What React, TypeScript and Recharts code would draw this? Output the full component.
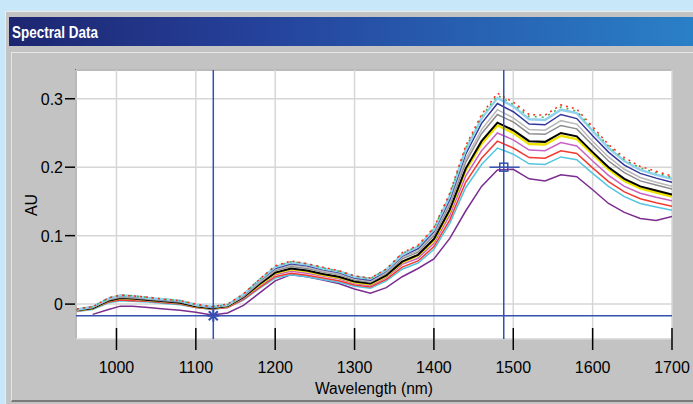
import React from 'react';
import { LineChart, Line, XAxis, YAxis, CartesianGrid, ReferenceLine, ReferenceDot } from 'recharts';

const wavelengths = [950, 970, 990, 1005, 1020, 1040, 1060, 1080, 1100, 1120, 1140, 1160, 1180, 1200, 1220, 1240, 1260, 1280, 1300, 1320, 1340, 1360, 1380, 1400, 1420, 1440, 1460, 1480, 1500, 1520, 1540, 1560, 1580, 1600, 1620, 1640, 1660, 1680, 1700];

const purple = [null, -0.015, -0.008, -0.003, -0.003, -0.005, -0.007, -0.009, -0.012, -0.016, -0.013, -0.002, 0.016, 0.034, 0.043, 0.040, 0.035, 0.030, 0.022, 0.016, 0.024, 0.040, 0.052, 0.066, 0.096, 0.136, 0.172, 0.196, 0.197, 0.183, 0.180, 0.189, 0.186, 0.167, 0.147, 0.134, 0.125, 0.122, 0.128];
const cyan = [-0.011, -0.008, 0.002, 0.005, 0.004, 0.003, 0.001, -0.001, -0.005, -0.008, -0.005, 0.006, 0.023, 0.038, 0.043, 0.040, 0.036, 0.032, 0.026, 0.023, 0.034, 0.051, 0.060, 0.080, 0.118, 0.170, 0.204, 0.228, 0.219, 0.205, 0.204, 0.215, 0.211, 0.191, 0.172, 0.157, 0.147, 0.142, 0.137];
const red = [-0.010, -0.007, 0.003, 0.006, 0.005, 0.004, 0.002, 0.000, -0.005, -0.007, -0.005, 0.007, 0.024, 0.040, 0.045, 0.042, 0.038, 0.034, 0.028, 0.025, 0.036, 0.054, 0.063, 0.084, 0.123, 0.178, 0.213, 0.238, 0.228, 0.214, 0.213, 0.224, 0.220, 0.199, 0.179, 0.164, 0.154, 0.148, 0.143];
const magenta = [-0.010, -0.007, 0.004, 0.008, 0.007, 0.005, 0.003, 0.001, -0.004, -0.007, -0.004, 0.008, 0.026, 0.043, 0.048, 0.045, 0.041, 0.037, 0.030, 0.027, 0.039, 0.058, 0.067, 0.089, 0.130, 0.187, 0.224, 0.250, 0.240, 0.225, 0.224, 0.236, 0.231, 0.209, 0.188, 0.172, 0.162, 0.156, 0.151];
const yellow = [-0.009, -0.006, 0.005, 0.009, 0.008, 0.006, 0.004, 0.002, -0.003, -0.006, -0.003, 0.010, 0.028, 0.045, 0.051, 0.048, 0.043, 0.039, 0.032, 0.029, 0.041, 0.061, 0.071, 0.093, 0.136, 0.195, 0.234, 0.261, 0.250, 0.234, 0.233, 0.246, 0.241, 0.219, 0.197, 0.180, 0.169, 0.163, 0.157];
const black = [-0.009, -0.006, 0.005, 0.009, 0.008, 0.006, 0.004, 0.002, -0.003, -0.006, -0.003, 0.010, 0.029, 0.046, 0.052, 0.049, 0.044, 0.040, 0.033, 0.030, 0.042, 0.062, 0.072, 0.095, 0.138, 0.198, 0.238, 0.265, 0.254, 0.238, 0.237, 0.250, 0.245, 0.222, 0.200, 0.183, 0.172, 0.166, 0.160];
const gray = [-0.009, -0.005, 0.006, 0.010, 0.009, 0.007, 0.005, 0.003, -0.002, -0.005, -0.002, 0.011, 0.031, 0.049, 0.055, 0.052, 0.047, 0.043, 0.035, 0.032, 0.045, 0.066, 0.076, 0.100, 0.145, 0.207, 0.249, 0.277, 0.266, 0.249, 0.248, 0.261, 0.256, 0.232, 0.209, 0.192, 0.180, 0.174, 0.168];
const silver = [-0.008, -0.005, 0.007, 0.011, 0.010, 0.008, 0.006, 0.004, -0.002, -0.005, -0.002, 0.012, 0.032, 0.050, 0.057, 0.054, 0.048, 0.044, 0.037, 0.033, 0.046, 0.068, 0.078, 0.103, 0.149, 0.212, 0.255, 0.284, 0.272, 0.255, 0.254, 0.268, 0.263, 0.238, 0.215, 0.197, 0.185, 0.178, 0.172];
const navy = [-0.008, -0.005, 0.008, 0.012, 0.011, 0.009, 0.006, 0.004, -0.001, -0.005, -0.001, 0.013, 0.034, 0.052, 0.059, 0.056, 0.050, 0.046, 0.038, 0.035, 0.048, 0.070, 0.081, 0.106, 0.153, 0.219, 0.264, 0.293, 0.281, 0.263, 0.262, 0.277, 0.271, 0.246, 0.222, 0.203, 0.191, 0.184, 0.178];
const sky = [-0.008, -0.004, 0.008, 0.013, 0.012, 0.009, 0.007, 0.005, -0.001, -0.004, -0.001, 0.014, 0.035, 0.054, 0.061, 0.058, 0.052, 0.048, 0.040, 0.037, 0.050, 0.072, 0.084, 0.109, 0.158, 0.225, 0.271, 0.301, 0.289, 0.270, 0.269, 0.284, 0.279, 0.253, 0.228, 0.209, 0.196, 0.189, 0.183];
const green = [-0.007, -0.004, 0.009, 0.013, 0.012, 0.010, 0.007, 0.005, -0.001, -0.004, -0.001, 0.014, 0.036, 0.055, 0.062, 0.059, 0.053, 0.048, 0.041, 0.037, 0.051, 0.074, 0.085, 0.111, 0.160, 0.228, 0.274, 0.305, 0.292, 0.274, 0.273, 0.288, 0.282, 0.256, 0.231, 0.211, 0.199, 0.192, 0.185];
const redTop = [-0.007, -0.004, 0.009, 0.013, 0.012, 0.010, 0.007, 0.005, 0.000, -0.004, 0.000, 0.015, 0.036, 0.056, 0.063, 0.059, 0.054, 0.049, 0.041, 0.038, 0.051, 0.075, 0.086, 0.112, 0.162, 0.231, 0.277, 0.308, 0.295, 0.277, 0.276, 0.291, 0.285, 0.259, 0.233, 0.214, 0.201, 0.194, 0.187];

const xTicks = [1000, 1100, 1200, 1300, 1400, 1500, 1600, 1700];
const yTicks = [0, 0.1, 0.2, 0.3];

const cursorA = { x: 1122, y: -0.017 };
const cursorB = { x: 1488, y: 0.2 };

const seriesList = [
  { key: 'purple', values: purple, color: '#7b2d90', width: 1.5, dash: undefined },
  { key: 'cyan', values: cyan, color: '#52c6e0', width: 1.5, dash: undefined },
  { key: 'red', values: red, color: '#f23a30', width: 1.5, dash: undefined },
  { key: 'magenta', values: magenta, color: '#c862c4', width: 1.5, dash: undefined },
  { key: 'yellow', values: yellow, color: '#eee200', width: 2.5, dash: undefined },
  { key: 'black', values: black, color: '#000000', width: 2, dash: undefined },
  { key: 'gray', values: gray, color: '#8c8c8c', width: 1.5, dash: undefined },
  { key: 'silver', values: silver, color: '#b8b8b8', width: 1.5, dash: undefined },
  { key: 'navy', values: navy, color: '#34349a', width: 1.5, dash: undefined },
  { key: 'sky', values: sky, color: '#90d2ee', width: 2.5, dash: undefined },
  { key: 'green', values: green, color: '#4caf50', width: 1.5, dash: '2 5' },
  { key: 'redTop', values: redTop, color: '#ff2a1a', width: 1.5, dash: '2 4' },
];

const data = wavelengths.map((w, i) => {
  const row: any = { w };
  seriesList.forEach((s) => {
    row[s.key] = s.values[i];
  });
  return row;
});

const FONT = '"Liberation Sans", Arial, sans-serif';
const BLUE = '#3450b0';

const XTick = (props: any) => {
  const { x, y, payload } = props;
  return (
    <g>
      <line x1={x} x2={x} y1={y - 11} y2={y + 11} stroke="#000" strokeWidth={1.5} />
      <text x={x} y={y + 34} textAnchor="middle" fontSize={16} fontFamily={FONT} fill="#000">
        {payload.value}
      </text>
    </g>
  );
};

const YTick = (props: any) => {
  const { x, y, payload } = props;
  const v = payload.value;
  const label = v === 0 ? '0' : v.toFixed(1);
  return (
    <g>
      <line x1={x - 11} x2={x - 1} y1={y} y2={y} stroke="#000" strokeWidth={1.5} />
      <text x={x - 13} y={y + 6} textAnchor="end" fontSize={16} fontFamily={FONT} fill="#000">
        {label}
      </text>
    </g>
  );
};

const StarShape = (props: any) => {
  const { cx, cy } = props;
  const r = 6;
  const d = r * 0.75;
  return (
    <g stroke={BLUE} strokeWidth={2}>
      <line x1={cx} x2={cx} y1={cy - r} y2={cy + r} />
      <line x1={cx - d} x2={cx + d} y1={cy - d} y2={cy + d} />
      <line x1={cx - d} x2={cx + d} y1={cy + d} y2={cy - d} />
      <line x1={cx - r} x2={cx + r} y1={cy} y2={cy} />
    </g>
  );
};

const SquareShape = (props: any) => {
  const { cx, cy } = props;
  return <rect x={cx - 4} y={cy - 4} width={8} height={8} fill="none" stroke={BLUE} strokeWidth={1.5} />;
};

export default function App() {
  return (
    <div
      style={{
        position: 'absolute',
        left: 0,
        top: 0,
        width: 693,
        height: 404,
        background: '#c8e7f8',
        overflow: 'hidden',
        fontFamily: FONT,
      }}
    >
      <div
        style={{
          position: 'absolute',
          left: 5,
          top: 11,
          width: 720,
          height: 420,
          background: '#c3c3c3',
          borderTop: '1px solid #ececec',
          borderLeft: '1px solid #ececec',
          boxSizing: 'border-box',
        }}
      />
      <div
        style={{
          position: 'absolute',
          left: 9,
          top: 17,
          width: 700,
          height: 29,
          background: 'linear-gradient(to right, #1d2670 0%, #25419a 35%, #2a82c9 100%)',
        }}
      />
      <svg width={300} height={50} style={{ position: 'absolute', left: 0, top: 0 }}>
        <text
          x={12}
          y={38}
          fill="#ffffff"
          fontWeight="bold"
          fontSize={17}
          fontFamily={FONT}
          textLength={86}
          lengthAdjust="spacingAndGlyphs"
        >
          Spectral Data
        </text>
      </svg>
      <div
        style={{
          position: 'absolute',
          left: 11,
          top: 52,
          width: 720,
          height: 350,
          borderTop: '1px solid #e6e6e6',
          borderLeft: '1px solid #e6e6e6',
          borderBottom: '2px solid #7a7a7a',
          boxSizing: 'border-box',
        }}
      />
      <div
        style={{
          position: 'absolute',
          left: 75,
          top: 69,
          width: 597,
          height: 270,
          background: '#ffffff',
          borderTop: '2px solid #6a6a6a',
          borderLeft: '2px solid #6a6a6a',
          boxSizing: 'border-box',
        }}
      />
      <div style={{ position: 'absolute', left: 0, top: 0 }}>
        <LineChart
          width={693}
          height={404}
          data={data}
          margin={{ top: 70, right: 21, bottom: 35, left: 36 }}
        >
          <CartesianGrid stroke="#d6d6d6" strokeWidth={1.5} />
          <XAxis
            dataKey="w"
            type="number"
            domain={[949, 1700]}
            ticks={xTicks}
            allowDataOverflow
            axisLine={false}
            tickLine={false}
            tickSize={0}
            tickMargin={0}
            height={30}
            tick={<XTick />}
            interval={0}
          />
          <YAxis
            type="number"
            domain={[-0.051, 0.342]}
            ticks={yTicks}
            allowDataOverflow
            axisLine={false}
            tickLine={false}
            tickSize={0}
            tickMargin={0}
            width={40}
            tick={<YTick />}
            interval={0}
          />
          {seriesList.map((s) => (
            <Line
              key={s.key}
              dataKey={s.key}
              type="linear"
              stroke={s.color}
              strokeWidth={s.width}
              strokeDasharray={s.dash}
              dot={false}
              activeDot={false}
              connectNulls={false}
              isAnimationActive={false}
            />
          ))}
          <ReferenceLine x={cursorA.x} stroke={BLUE} strokeWidth={1.5} />
          <ReferenceLine x={cursorB.x} stroke={BLUE} strokeWidth={1.5} />
          <ReferenceLine y={cursorA.y} stroke={BLUE} strokeWidth={1.5} />
          <ReferenceLine
            segment={[
              { x: 1470, y: cursorB.y },
              { x: 1508, y: cursorB.y },
            ]}
            stroke={BLUE}
            strokeWidth={1.5}
          />
          <ReferenceDot x={cursorA.x} y={cursorA.y} r={6} shape={StarShape} />
          <ReferenceDot x={cursorB.x} y={cursorB.y} r={4} shape={SquareShape} />
        </LineChart>
      </div>
      <svg width={693} height={404} style={{ position: 'absolute', left: 0, top: 0, pointerEvents: 'none' }}>
        <text
          transform="translate(37,205) rotate(-90)"
          textAnchor="middle"
          fontSize={16}
          fontFamily={FONT}
          fill="#000"
        >
          AU
        </text>
        <text
          x={374}
          y={394}
          textAnchor="middle"
          fontSize={16}
          fontFamily={FONT}
          fill="#000"
          textLength={118}
          lengthAdjust="spacingAndGlyphs"
        >
          Wavelength (nm)
        </text>
      </svg>
    </div>
  );
}
